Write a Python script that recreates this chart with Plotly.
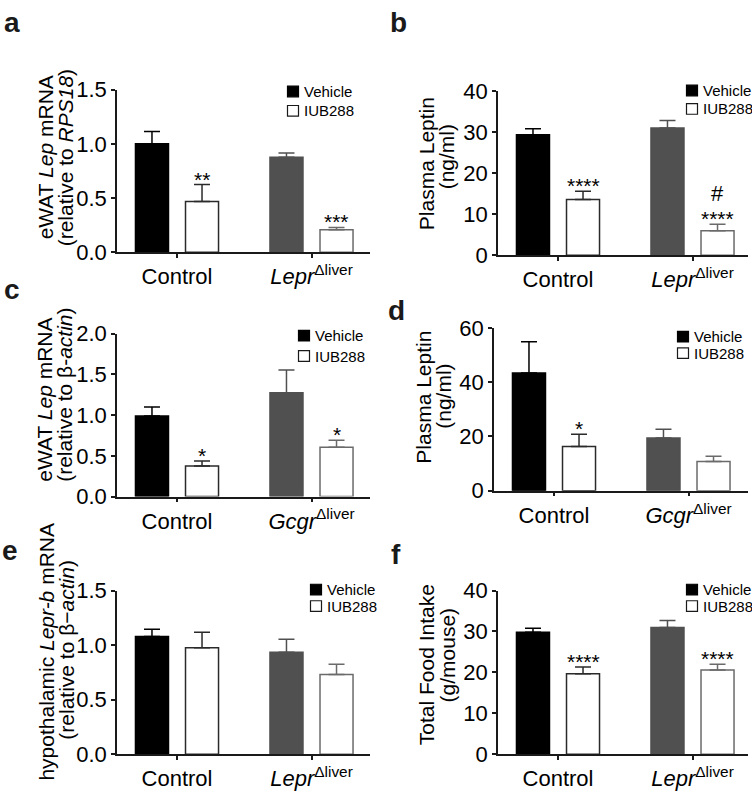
import plotly.graph_objects as go

W, H = 752, 809
FONT = "Arial, Liberation Sans, Helvetica, sans-serif"

# ---------------- data ----------------
groups_lepr = ["Control", "<i>Lepr</i><sup>Δliver</sup>"]
groups_gcgr = ["Control", "<i>Gcgr</i><sup>Δliver</sup>"]

a_vehicle = [1.00, 0.876]
a_vehicle_err = [0.114, 0.039]
a_iub = [0.469, 0.208]
a_iub_err = [0.155, 0.021]
a_sig = ["**", "***"]

b_vehicle = [29.4, 31.1]
b_vehicle_err = [1.5, 1.8]
b_iub = [13.6, 6.0]
b_iub_err = [2.0, 1.6]
b_sig = ["****", "****"]
b_hash = ["", "#"]

c_vehicle = [0.99, 1.275]
c_vehicle_err = [0.11, 0.28]
c_iub = [0.376, 0.606]
c_iub_err = [0.06, 0.087]
c_sig = ["*", "*"]

d_vehicle = [43.4, 19.4]
d_vehicle_err = [11.5, 3.3]
d_iub = [16.3, 10.8]
d_iub_err = [4.5, 1.9]
d_sig = ["*", ""]

e_vehicle = [1.08, 0.936]
e_vehicle_err = [0.066, 0.118]
e_iub = [0.977, 0.732]
e_iub_err = [0.142, 0.092]
e_sig = ["", ""]

f_vehicle = [29.8, 31.0]
f_vehicle_err = [1.0, 1.7]
f_iub = [19.7, 20.6]
f_iub_err = [1.6, 1.4]
f_sig = ["****", "****"]

legend_labels = ["Vehicle", "IUB288"]

# ---------------- styles / layout ----------------
vehicle_fill = ["#000000", "#505050"]
vehicle_line = ["#000000", "#505050"]
iub_fill = ["#ffffff", "#ffffff"]
iub_line = ["#2a2a2a", "#6a6a6a"]

panels = [
    dict(letter="a", groups=groups_lepr, veh=a_vehicle, veh_err=a_vehicle_err, iub=a_iub, iub_err=a_iub_err,
         sig=a_sig, hash=None, ymax=1.5, dtick=0.5, fmt=".1f",
         titles=["eWAT <i>Lep</i> mRNA", "(relative to <i>RPS18</i>)"],
         px=(117, 370), py=(248, 80), tpos=((45, 150), (65, 151)), leg=(293, 82, 102), let=(2, 23)),
    dict(letter="b", groups=groups_lepr, veh=b_vehicle, veh_err=b_vehicle_err, iub=b_iub, iub_err=b_iub_err,
         sig=b_sig, hash=b_hash, ymax=40, dtick=10, fmt="d",
         titles=["Plasma Leptin", "(ng/ml)"],
         px=(498, 748), py=(251, 82), tpos=((426, 157), (446, 150)), leg=(692, 81, 100), let=(388, 23)),
    dict(letter="c", groups=groups_gcgr, veh=c_vehicle, veh_err=c_vehicle_err, iub=c_iub, iub_err=c_iub_err,
         sig=c_sig, hash=None, ymax=2.0, dtick=0.5, fmt=".1f",
         titles=["eWAT <i>Lep</i> mRNA", "(relative to β-<i>actin</i>)"],
         px=(117, 370), py=(500, 332), tpos=((45, 400), (65, 395)), leg=(304, 334, 355), let=(2, 298)),
    dict(letter="d", groups=groups_gcgr, veh=d_vehicle, veh_err=d_vehicle_err, iub=d_iub, iub_err=d_iub_err,
         sig=d_sig, hash=None, ymax=60, dtick=20, fmt="d",
         titles=["Plasma Leptin", "(ng/ml)"],
         px=(494, 748), py=(494, 326), tpos=((424, 398), (444, 397)), leg=(683, 335, 352), let=(386, 320)),
    dict(letter="e", groups=groups_lepr, veh=e_vehicle, veh_err=e_vehicle_err, iub=e_iub, iub_err=e_iub_err,
         sig=e_sig, hash=None, ymax=1.5, dtick=0.5, fmt=".1f",
         titles=["hypothalamic <i>Lepr-b</i> mRNA", "(relative to β−<i>actin</i>)"],
         px=(117, 370), py=(766, 597), tpos=((47, 660), (67, 658)), leg=(316, 596, 613), let=(0, 568)),
    dict(letter="f", groups=groups_lepr, veh=f_vehicle, veh_err=f_vehicle_err, iub=f_iub, iub_err=f_iub_err,
         sig=f_sig, hash=None, ymax=40, dtick=10, fmt="d",
         titles=["Total Food Intake", "(g/mouse)"],
         px=(498, 748), py=(766, 597), tpos=((426, 674), (447, 664)), leg=(692, 596, 613), let=(389, 572)),
]

BARGAP = 0.256
BARGROUPGAP = 0.34
SLOT = (1 - BARGAP) / 2
IUB_OFFSET = SLOT / 2
TICK_SIZE = 22
TITLE_SIZE = 21


def fx(px):
    return px / W


def fy(py):
    return 1 - py / H


fig = go.Figure()
layout = dict(
    width=W, height=H, margin=dict(l=0, r=0, t=0, b=0),
    paper_bgcolor="white", plot_bgcolor="white",
    barmode="group", bargap=BARGAP, bargroupgap=BARGROUPGAP,
    showlegend=False, font=dict(family=FONT, color="black"),
)
annotations = []
shapes = []

for i, p in enumerate(panels):
    n = "" if i == 0 else str(i + 1)
    xa, ya = "x" + n, "y" + n
    idx = list(range(len(p["groups"])))
    for g in idx:
        fig.add_trace(go.Bar(
            x=[g], y=[p["veh"][g]], xaxis=xa, yaxis=ya, offsetgroup="veh", name=legend_labels[0],
            marker=dict(color=vehicle_fill[g], line=dict(color=vehicle_line[g], width=1.5)),
            error_y=dict(type="data", array=[p["veh_err"][g]], arrayminus=[0], symmetric=False,
                         color=vehicle_line[g], thickness=1.5, width=8),
        ))
        fig.add_trace(go.Bar(
            x=[g], y=[p["iub"][g]], xaxis=xa, yaxis=ya, offsetgroup="iub", name=legend_labels[1],
            marker=dict(color=iub_fill[g], line=dict(color=iub_line[g], width=1.5)),
            error_y=dict(type="data", array=[p["iub_err"][g]], arrayminus=[0], symmetric=False,
                         color=iub_line[g], thickness=1.5, width=8),
        ))
        if p["sig"][g]:
            annotations.append(dict(
                x=g + IUB_OFFSET, y=p["iub"][g] + p["iub_err"][g], xref=xa, yref=ya,
                text=p["sig"][g], showarrow=False, xanchor="center", yanchor="bottom",
                yshift=-8, font=dict(size=21, family=FONT, color="black")))
        if p["hash"] and p["hash"][g]:
            annotations.append(dict(
                x=g + IUB_OFFSET, y=p["iub"][g] + p["iub_err"][g], xref=xa, yref=ya,
                text=p["hash"][g], showarrow=False, xanchor="center", yanchor="bottom",
                yshift=16, font=dict(size=22, family=FONT, color="black")))

    x0, x1 = p["px"]
    yb, yt = p["py"]
    span = x1 - x0
    unit = 134.5
    layout["xaxis" + n] = dict(
        domain=[fx(x0), fx(x1)], anchor=ya, range=[-60 / unit, -60 / unit + span / unit],
        tickmode="array", tickvals=idx, ticktext=p["groups"],
        showline=True, linecolor="#1a1a1a", linewidth=1.5, ticks="outside", ticklen=4,
        tickwidth=1.5, tickcolor="#1a1a1a", showgrid=False, zeroline=False,
        tickfont=dict(size=TICK_SIZE, family=FONT, color="black"), fixedrange=True,
    )
    layout["yaxis" + n] = dict(
        domain=[fy(yb), fy(yt)], anchor=xa, range=[0, p["ymax"]], dtick=p["dtick"], tick0=0,
        tickformat=p["fmt"], showline=True, linecolor="#1a1a1a", linewidth=1.5,
        ticks="outside", ticklen=4, tickwidth=1.5, tickcolor="#1a1a1a",
        showgrid=False, zeroline=False, tickfont=dict(size=TICK_SIZE, family=FONT, color="black"),
        fixedrange=True,
    )

    for t, (cx, cy) in zip(p["titles"], p["tpos"]):
        annotations.append(dict(
            x=fx(cx), y=fy(cy), xref="paper", yref="paper", text=t, textangle=-90,
            showarrow=False, xanchor="center", yanchor="middle",
            font=dict(size=TITLE_SIZE, family=FONT, color="black")))

    lx, ly1, ly2 = p["leg"]
    for (fill, line), ly, lab in zip([("#000000", "#000000"), ("#ffffff", "#1a1a1a")], [ly1, ly2], legend_labels):
        shapes.append(dict(type="rect", xref="paper", yref="paper",
                           x0=fx(lx - 5.5), x1=fx(lx + 5.5), y0=fy(ly + 5.5), y1=fy(ly - 5.5),
                           fillcolor=fill, line=dict(color=line, width=1.2)))
        annotations.append(dict(x=fx(lx + 9), y=fy(ly), xref="paper", yref="paper", text=lab,
                                showarrow=False, xanchor="left", yanchor="middle",
                                font=dict(size=15, family=FONT, color="black")))

    lxp, lyp = p["let"]
    annotations.append(dict(x=fx(lxp), y=fy(lyp + 6), xref="paper", yref="paper", text="<b>%s</b>" % p["letter"],
                            showarrow=False, xanchor="left", yanchor="bottom",
                            font=dict(size=28, family=FONT, color="#1a1a1a")))

layout["annotations"] = annotations
layout["shapes"] = shapes
fig.update_layout(**layout)
fig.write_html(
    "out.html",
    config={"displayModeBar": False},
    post_script="document.body.style.margin='0';document.body.style.padding='0';"
                "document.documentElement.style.overflow='hidden';",
)
